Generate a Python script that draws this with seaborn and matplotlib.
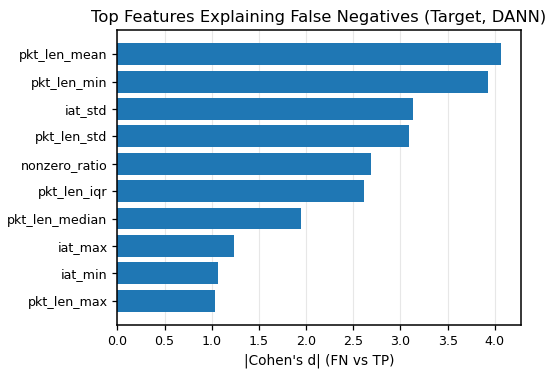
import pandas as pd
import matplotlib
matplotlib.use('Agg')
import matplotlib.pyplot as plt
import seaborn as sns

features = ['pkt_len_mean', 'pkt_len_min', 'iat_std', 'pkt_len_std', 'nonzero_ratio',
            'pkt_len_iqr', 'pkt_len_median', 'iat_max', 'iat_min', 'pkt_len_max']
cohens_d = [4.07, 3.93, 3.13, 3.09, 2.69, 2.61, 1.95, 1.24, 1.07, 1.04]

df = pd.DataFrame({'feature': features, 'd': cohens_d})

plt.rcParams['font.family'] = ['DejaVu Sans']

fig, ax = plt.subplots(figsize=(5.5, 3.73), dpi=100)
sns.barplot(data=df, x='d', y='feature', orient='h', color='#1f77b4',
            saturation=1, width=0.8, ax=ax, zorder=2)
ax.grid(axis='x', color='#b0b0b0', linewidth=0.8, alpha=0.3, zorder=0)
ax.set_axisbelow(True)
ax.set_xlim(0, max(cohens_d) * 1.05)
# same padding as a plain barh: 5% of the bar span on each side
n = len(features)
span = (n - 1) + 0.8
ax.set_ylim(n - 1 + 0.4 + 0.05 * span, -0.4 - 0.05 * span)
ax.set_xticks([0, 0.5, 1.0, 1.5, 2.0, 2.5, 3.0, 3.5, 4.0])
ax.set_xticklabels(['0.0', '0.5', '1.0', '1.5', '2.0', '2.5', '3.0', '3.5', '4.0'])
ax.tick_params(axis='both', labelsize=9.1, length=3.5, width=0.9, colors='black')
ax.set_xlabel("|Cohen's d| (FN vs TP)", fontsize=9.8)
ax.set_ylabel('')
ax.set_title('Top Features Explaining False Negatives (Target, DANN)', fontsize=11.8)
for s in ax.spines.values():
    s.set_color('black')
    s.set_linewidth(1.1)

fig.subplots_adjust(left=0.2133, right=0.9467, top=0.9196, bottom=0.1287)
fig.savefig('out.png', dpi=100)
